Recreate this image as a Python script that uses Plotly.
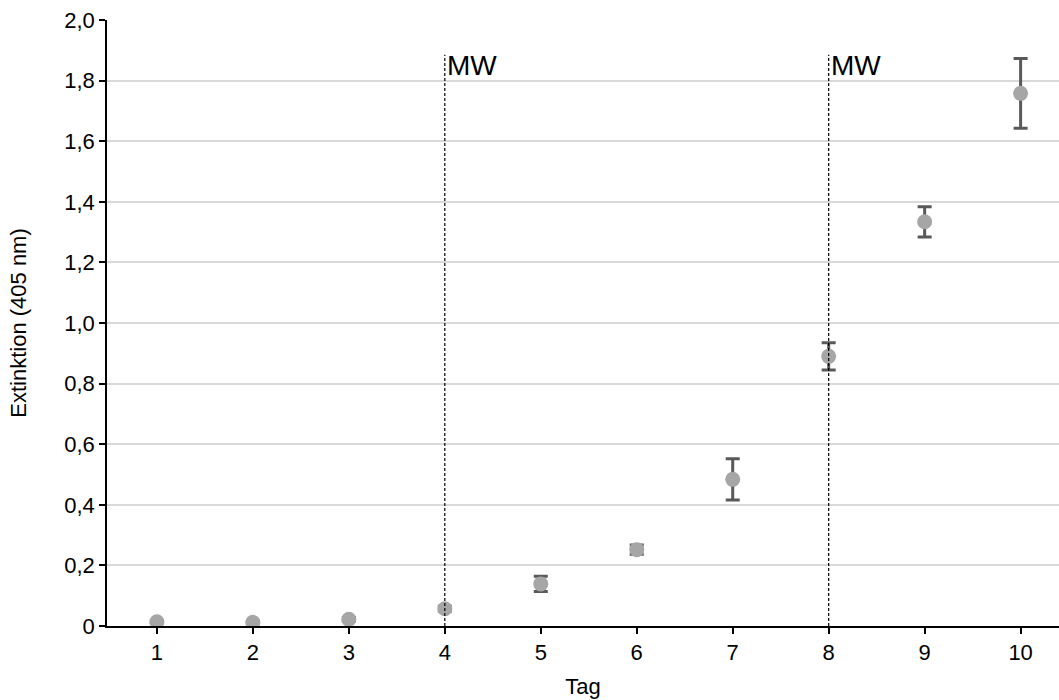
import plotly.graph_objects as go

days = [1, 2, 3, 4, 5, 6, 7, 8, 9, 10]
extinction = [0.014, 0.012, 0.022, 0.057, 0.139, 0.252, 0.484, 0.890, 1.334, 1.758]
errors = [0.004, 0.004, 0.006, 0.008, 0.025, 0.015, 0.068, 0.045, 0.050, 0.115]
mw_days = [4, 8]
mw_top = 1.885
y_ticks = [0, 0.2, 0.4, 0.6, 0.8, 1.0, 1.2, 1.4, 1.6, 1.8, 2.0]
y_ticktext = ["0", "0,2", "0,4", "0,6", "0,8", "1,0", "1,2", "1,4", "1,6", "1,8", "2,0"]

FONT = "Liberation Sans, Arial, sans-serif"

fig = go.Figure()
fig.add_trace(go.Scatter(
    x=days, y=extinction, mode="markers",
    marker=dict(color="#a6a6a6", size=15, line=dict(width=0)),
    error_y=dict(type="data", array=errors, visible=True,
                 color="#595959", thickness=3, width=7),
    showlegend=False,
))

for d in mw_days:
    fig.add_shape(type="line", xref="x", yref="y", x0=d, x1=d, y0=0, y1=mw_top,
                  line=dict(color="black", width=1.2, dash="3px,2px"), layer="above")
    fig.add_annotation(x=d, y=mw_top, xref="x", yref="y", text="MW", showarrow=False,
                       xanchor="left", yanchor="top", xshift=0, yshift=7,
                       font=dict(family=FONT, size=28, color="black"))

fig.update_layout(
    width=1059, height=700,
    margin=dict(l=107, r=0, t=20, b=74),
    plot_bgcolor="white", paper_bgcolor="white",
    font=dict(family=FONT, size=22, color="black"),
    xaxis=dict(
        range=[0.48, 10.4], tickvals=days, ticktext=[str(d) for d in days],
        tickfont=dict(size=22),
        showgrid=False, zeroline=False,
        showline=True, linecolor="black", linewidth=1.5,
        ticks="outside", ticklen=6, tickcolor="black", tickwidth=1.5,
        title=dict(text="Tag", font=dict(size=22), standoff=14),
    ),
    yaxis=dict(
        range=[0, 2.0], tickvals=y_ticks, ticktext=y_ticktext,
        tickfont=dict(size=22),
        showgrid=True, gridcolor="#d9d9d9", gridwidth=1.5, zeroline=False,
        showline=True, linecolor="black", linewidth=1.5,
        ticks="outside", ticklen=6, tickcolor="black", tickwidth=1.5,
        title=dict(text="Extinktion (405 nm)", font=dict(size=22), standoff=32),
    ),
)

fig.write_html("out.html")
